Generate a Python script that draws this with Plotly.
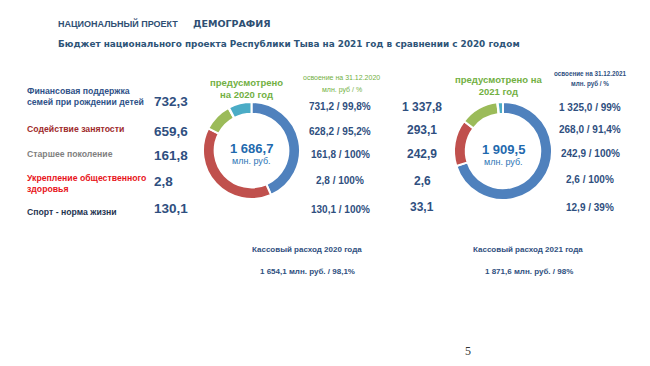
import plotly.graph_objects as go

W, H = 650, 366

# ---------------- data ----------------
categories = ["Финансовая поддержка<br>семей при рождении детей",
              "Содействие занятости",
              "Старшее поколение",
              "Укрепление общественного<br>здоровья",
              "Спорт - норма жизни"]
plan_2020 = [732.3, 659.6, 161.8, 2.8, 130.1]
exec_2020 = [731.2, 628.2, 161.8, 2.8, 130.1]
pct_2020 = [99.8, 95.2, 100, 100, 100]
plan_2021 = [1337.8, 293.1, 242.9, 2.6, 33.1]
exec_2021 = [1325.0, 268.0, 242.9, 2.6, 12.9]
pct_2021 = [99, 91.4, 100, 100, 39]
total_2020 = 1686.7
total_2021 = 1909.5
cash_2020 = 1654.1
cash_pct_2020 = 98.1
cash_2021 = 1871.6
cash_pct_2021 = 98

# ---------------- styling ----------------
slice_colors = ["#4F81BD", "#C0504D", "#9BBB59", "#8064A2", "#4BACC6"]
label_colors = ["#2F5288", "#9E2A2B", "#7F7F7F", "#E8141A", "#1F3552"]
NAVY = "#2F4F80"
GREEN = "#72B043"
ARIAL = "Liberation Sans, Arial"


def fmt(v, dec=1):
    s = f"{v:,.{dec}f}"
    return s.replace(",", " ").replace(".", ",")


def fpct(v):
    if float(v).is_integer():
        return f"{int(v)}%"
    return fmt(v, 1) + "%"


def px(x):
    return x / W


def py(y):
    return 1 - y / H


fig = go.Figure()

fig.add_trace(go.Pie(
    labels=[c.replace("<br>", " ") for c in categories], values=plan_2020,
    hole=0.76, sort=False, direction="clockwise", rotation=0,
    marker=dict(colors=slice_colors, line=dict(color="white", width=2)),
    textinfo="none", hoverinfo="label+value", showlegend=False,
    domain=dict(x=[px(203), px(300)], y=[py(199), py(102)])))

fig.add_trace(go.Pie(
    labels=[c.replace("<br>", " ") for c in categories], values=plan_2021,
    hole=0.76, sort=False, direction="clockwise", rotation=0,
    marker=dict(colors=slice_colors, line=dict(color="white", width=2)),
    textinfo="none", hoverinfo="label+value", showlegend=False,
    domain=dict(x=[px(454), px(552)], y=[py(200), py(102)])))

ann = []


def T(x, y, text, size, color, family=ARIAL, xanchor="center", bold=True, align="center"):
    if bold:
        text = f"<b>{text}</b>"
    ann.append(dict(x=px(x), y=py(y), xref="paper", yref="paper", text=text,
                    showarrow=False, xanchor=xanchor, yanchor="middle", align=align,
                    borderpad=0,
                    font=dict(size=size, color=color, family=family)))


# header
T(57, 24, "НАЦИОНАЛЬНЫЙ ПРОЕКТ", 9, "#2F4F73", ARIAL, "left")
T(192, 24, "ДЕМОГРАФИЯ", 9.5, "#2F4F73", "DejaVu Sans", "left")
T(57, 44, "Бюджет национального проекта Республики Тыва на 2021 год в сравнении с 2020 годом",
  8.9, "#2E5478", "DejaVu Sans", "left")

# rows
label_y = [97, 129, 154, 183, 212]
left_val_y = [102, 131, 155, 181, 208]
exec20_y = [106, 131, 154, 180, 209]
plan21_y = [107, 130, 154, 181, 207]
exec21_y = [107, 130, 153, 179, 207]
for i, cat in enumerate(categories):
    T(26, label_y[i], cat, 8.7, label_colors[i], ARIAL, "left", align="left")
    T(153, left_val_y[i], fmt(plan_2020[i]), 13.5, NAVY, ARIAL, "left")
    T(340, exec20_y[i], f"{fmt(exec_2020[i])} / {fpct(pct_2020[i])}", 10, NAVY, ARIAL)
    T(422, plan21_y[i], fmt(plan_2021[i]), 12, NAVY, ARIAL)
    T(590, exec21_y[i], f"{fmt(exec_2021[i])} / {fpct(pct_2021[i])}", 10, NAVY, ARIAL)

# donut headers
T(246, 89, "предусмотрено<br>на 2020 год", 9.5, GREEN, ARIAL)
T(341, 77, "освоение на 31.12.2020", 7, GREEN, ARIAL, bold=False)
T(342, 90, "млн. руб / %", 7, GREEN, ARIAL, bold=False)
T(498, 85, "предусмотрено на<br>2021 год", 9.5, GREEN, ARIAL)
T(590, 73, "освоение на 31.12.2021", 6.3, NAVY, ARIAL)
T(590, 84, "млн. руб / %", 6.3, NAVY, ARIAL)

# donut centers
T(251, 148, fmt(total_2020), 13, "#1F6AAE", ARIAL)
T(251, 161, "млн. руб.", 9, "#2E75B6", ARIAL, bold=False)
T(503, 149, fmt(total_2021), 13, "#1F6AAE", ARIAL)
T(503, 162, "млн. руб.", 9, "#2E75B6", ARIAL, bold=False)

# cash execution
T(307, 249, "Кассовый расход 2020 года", 8, NAVY, ARIAL)
T(307, 271, f"{fmt(cash_2020)} млн. руб. / {fpct(cash_pct_2020)}", 8, NAVY, ARIAL)
T(528, 249, "Кассовый расход 2021 года", 8, NAVY, ARIAL)
T(529, 271, f"{fmt(cash_2021)} млн. руб. / {fpct(cash_pct_2021)}", 8, NAVY, ARIAL)

# page number
T(468, 351, "5", 12, "#333333", "Liberation Serif, Times New Roman", bold=False)

fig.update_layout(
    width=W, height=H, margin=dict(l=0, r=0, t=0, b=0),
    paper_bgcolor="white", plot_bgcolor="white",
    annotations=ann, showlegend=False)

fig.write_html("out.html", config={"displayModeBar": False},
               post_script="document.body.style.margin='0';")
